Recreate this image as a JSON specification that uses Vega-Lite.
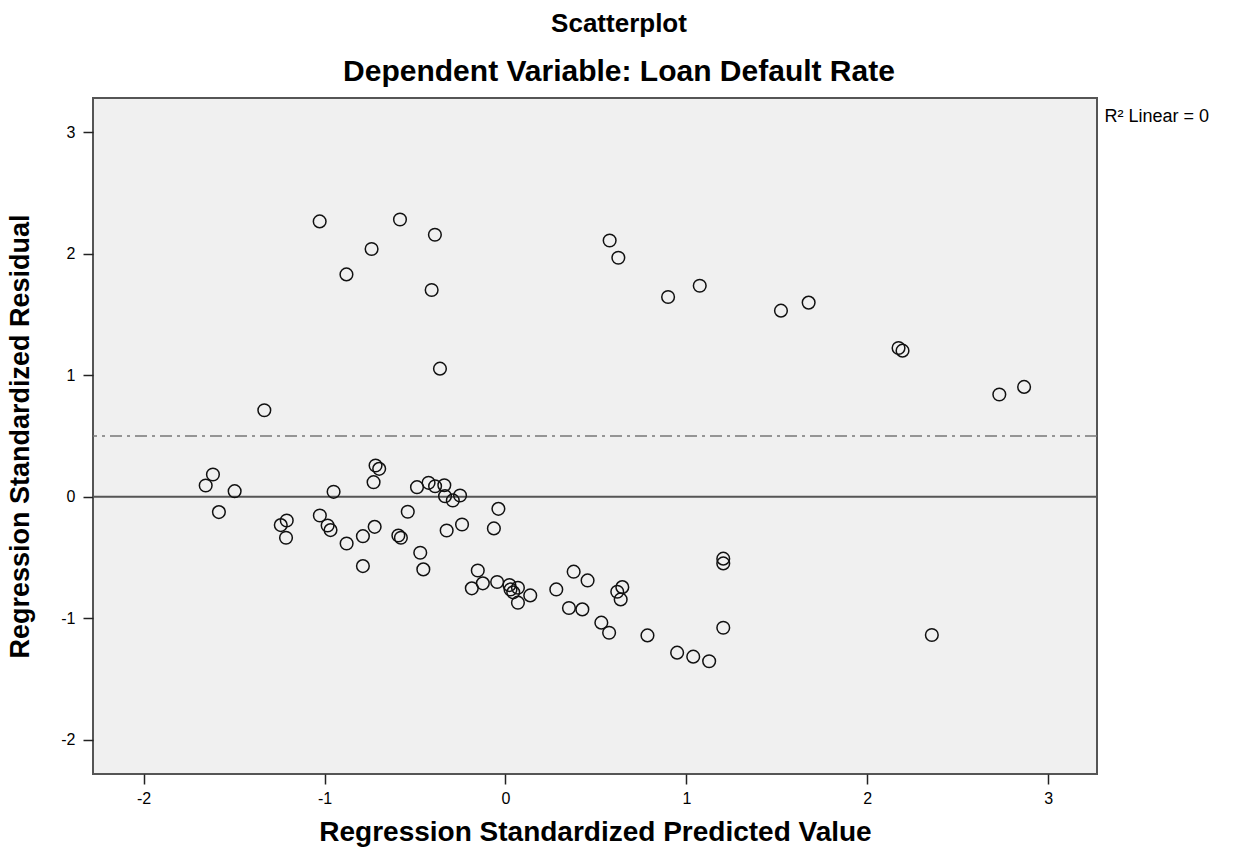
{
  "$schema": "https://vega.github.io/schema/vega-lite/v6.json",
  "width": 1004,
  "height": 676,
  "autosize": "none",
  "padding": {"left": 93, "top": 98, "right": 141, "bottom": 84},
  "background": "white",
  "config": {
    "font": "Liberation Sans",
    "view": {"fill": "#f0f0f0", "stroke": "#555555", "strokeWidth": 2},
    "axis": {"grid": false, "domain": false, "tickColor": "#222222", "tickWidth": 1.5, "tickSize": 10, "labelFontSize": 16, "labelColor": "#000000", "labelFont": "Liberation Sans", "titleFont": "Liberation Sans", "titleFontSize": 27, "titleFontWeight": "bold", "titleColor": "#000000"}
  },
  "title": {
    "text": "Scatterplot",
    "subtitle": "Dependent Variable: Loan Default Rate",
    "fontSize": 26,
    "fontWeight": "bold",
    "subtitleFontSize": 30,
    "subtitleFontWeight": "bold",
    "subtitleColor": "#000000",
    "color": "#000000",
    "subtitlePadding": 20,
    "offset": 11,
    "anchor": "middle",
    "dx": 24
  },
  "datasets": {
    "points": [
      {"predicted": -1.027, "residual": 2.265},
      {"predicted": -0.583, "residual": 2.281},
      {"predicted": -0.390, "residual": 2.155},
      {"predicted": -0.740, "residual": 2.038},
      {"predicted": -0.879, "residual": 1.829},
      {"predicted": -0.408, "residual": 1.701},
      {"predicted": -0.362, "residual": 1.054},
      {"predicted": -1.333, "residual": 0.712},
      {"predicted": 0.576, "residual": 2.108},
      {"predicted": 0.624, "residual": 1.966},
      {"predicted": 0.899, "residual": 1.643},
      {"predicted": 1.074, "residual": 1.736},
      {"predicted": 1.523, "residual": 1.531},
      {"predicted": 1.676, "residual": 1.597},
      {"predicted": 2.173, "residual": 1.224},
      {"predicted": 2.195, "residual": 1.202},
      {"predicted": 2.730, "residual": 0.841},
      {"predicted": 2.867, "residual": 0.904},
      {"predicted": -1.617, "residual": 0.183},
      {"predicted": -1.657, "residual": 0.093},
      {"predicted": -1.497, "residual": 0.046},
      {"predicted": -1.584, "residual": -0.126},
      {"predicted": -1.209, "residual": -0.195},
      {"predicted": -1.242, "residual": -0.233},
      {"predicted": -1.213, "residual": -0.337},
      {"predicted": -0.950, "residual": 0.041},
      {"predicted": -1.026, "residual": -0.154},
      {"predicted": -0.983, "residual": -0.236},
      {"predicted": -0.967, "residual": -0.274},
      {"predicted": -0.878, "residual": -0.384},
      {"predicted": -0.788, "residual": -0.324},
      {"predicted": -0.723, "residual": -0.247},
      {"predicted": -0.788, "residual": -0.570},
      {"predicted": -0.718, "residual": 0.257},
      {"predicted": -0.698, "residual": 0.230},
      {"predicted": -0.729, "residual": 0.120},
      {"predicted": -0.540, "residual": -0.123},
      {"predicted": -0.592, "residual": -0.318},
      {"predicted": -0.578, "residual": -0.337},
      {"predicted": -0.489, "residual": 0.079},
      {"predicted": -0.425, "residual": 0.115},
      {"predicted": -0.471, "residual": -0.460},
      {"predicted": -0.454, "residual": -0.597},
      {"predicted": -0.389, "residual": 0.087},
      {"predicted": -0.338, "residual": 0.095},
      {"predicted": -0.334, "residual": 0.005},
      {"predicted": -0.291, "residual": -0.030},
      {"predicted": -0.251, "residual": 0.011},
      {"predicted": -0.039, "residual": -0.099},
      {"predicted": -0.240, "residual": -0.228},
      {"predicted": -0.325, "residual": -0.277},
      {"predicted": -0.064, "residual": -0.260},
      {"predicted": -0.153, "residual": -0.606},
      {"predicted": -0.186, "residual": -0.753},
      {"predicted": -0.125, "residual": -0.712},
      {"predicted": -0.046, "residual": -0.701},
      {"predicted": 0.022, "residual": -0.726},
      {"predicted": 0.069, "residual": -0.748},
      {"predicted": 0.028, "residual": -0.762},
      {"predicted": 0.043, "residual": -0.786},
      {"predicted": 0.069, "residual": -0.871},
      {"predicted": 0.137, "residual": -0.811},
      {"predicted": 0.281, "residual": -0.762},
      {"predicted": 0.377, "residual": -0.616},
      {"predicted": 0.454, "residual": -0.688},
      {"predicted": 0.351, "residual": -0.915},
      {"predicted": 0.425, "residual": -0.926},
      {"predicted": 0.646, "residual": -0.743},
      {"predicted": 0.618, "residual": -0.781},
      {"predicted": 0.637, "residual": -0.844},
      {"predicted": 0.530, "residual": -1.035},
      {"predicted": 0.573, "residual": -1.118},
      {"predicted": 0.785, "residual": -1.140},
      {"predicted": 0.949, "residual": -1.282},
      {"predicted": 1.038, "residual": -1.315},
      {"predicted": 1.126, "residual": -1.353},
      {"predicted": 1.204, "residual": -0.509},
      {"predicted": 1.204, "residual": -0.548},
      {"predicted": 1.204, "residual": -1.077},
      {"predicted": 2.357, "residual": -1.137}
    ]
  },
  "layer": [
    {
      "data": {"values": [{"level": 0}]},
      "mark": {"type": "rule", "color": "#555555", "strokeWidth": 2},
      "encoding": {"y": {"field": "level", "type": "quantitative", "scale": {"domain": [-2.28, 3.28], "nice": false, "zero": false}}}
    },
    {
      "data": {"values": [{"level": 0.5}]},
      "mark": {"type": "rule", "color": "#777777", "strokeWidth": 1.5, "strokeDash": [12, 5, 3, 5]},
      "encoding": {"y": {"field": "level", "type": "quantitative"}}
    },
    {
      "data": {"name": "points"},
      "mark": {"type": "point", "shape": "circle", "filled": false, "color": "#111111", "strokeWidth": 1.5, "size": 160, "opacity": 1},
      "encoding": {
        "x": {"field": "predicted", "type": "quantitative", "title": "Regression Standardized Predicted Value", "scale": {"domain": [-2.28, 3.27], "nice": false, "zero": false}, "axis": {"values": [-2, -1, 0, 1, 2, 3], "labelExpr": "'' + datum.value", "titlePadding": 12, "titleFontSize": 28, "labelPadding": 6}},
        "y": {"field": "residual", "type": "quantitative", "title": "Regression Standardized Residual", "scale": {"domain": [-2.28, 3.28], "nice": false, "zero": false}, "axis": {"values": [-2, -1, 0, 1, 2, 3], "labelExpr": "'' + datum.value", "titlePadding": 26, "labelPadding": 8}}
      }
    },
    {
      "data": {"values": [{"px": 3.30, "py": 3.125, "label": "R² Linear = 0"}]},
      "mark": {"type": "text", "align": "left", "baseline": "middle", "fontSize": 18, "color": "#000000", "clip": false, "dx": 2},
      "encoding": {
        "x": {"field": "px", "type": "quantitative"},
        "y": {"field": "py", "type": "quantitative"},
        "text": {"field": "label"}
      }
    }
  ]
}
